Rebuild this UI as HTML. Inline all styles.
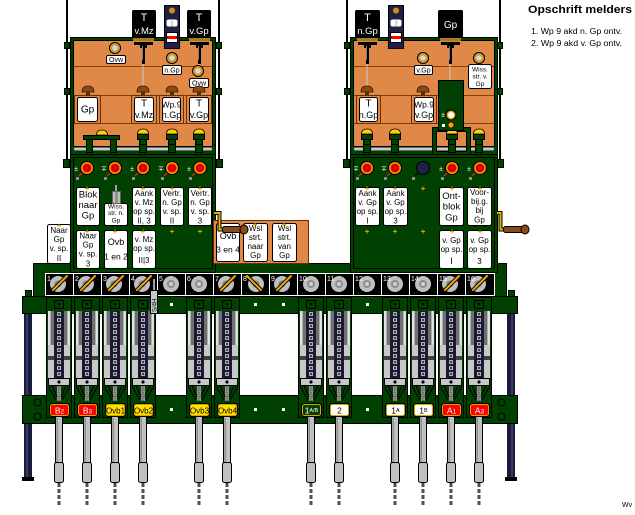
<!DOCTYPE html>
<html><head><meta charset="utf-8">
<style>
html,body{margin:0;padding:0;background:#fff;}
svg{display:block;}
text{font-family:"Liberation Sans","DejaVu Sans",sans-serif;}
</style></head><body>
<svg width="635" height="515" viewBox="0 0 635 515" xmlns="http://www.w3.org/2000/svg">
<defs>
<g id="slot">
<rect x="-12.5" y="297.5" width="25" height="120" fill="#004000" stroke="#000"/>
<rect x="-4.5" y="300.5" width="9" height="8" fill="#004000" stroke="#000"/>
<rect x="-1" y="303" width="2" height="2" fill="#000"/>
<rect x="-11" y="311" width="22" height="67" fill="#b0b0b0"/>
<rect x="-11" y="311" width="2" height="67" fill="#e0e0e0"/>
<rect x="9" y="311" width="2" height="67" fill="#e0e0e0"/>
<rect x="-8" y="311" width="3" height="67" fill="#707070"/>
<rect x="5" y="311" width="3" height="67" fill="#707070"/>
<rect x="-11" y="345" width="6" height="33" fill="#c8c8c8"/>
<rect x="5" y="345" width="6" height="33" fill="#c8c8c8"/>
<rect x="-11" y="356" width="6" height="4" fill="#404040"/>
<rect x="5" y="356" width="6" height="4" fill="#404040"/>
<rect x="-5" y="311" width="10" height="67" fill="#1a1a32"/>
<line x1="0" y1="312" x2="0" y2="377" stroke="#b0b0b0" stroke-width="4" stroke-dasharray="4 2"/>
<line x1="0" y1="312" x2="0" y2="377" stroke="#1a1a32" stroke-width="1.5" stroke-dasharray="2 4" stroke-dashoffset="-1"/>
<rect x="-10.5" y="378.5" width="21" height="7" fill="#c8c8c8" stroke="#000"/>
<path d="M0 380 L2 382 L0 384 L-2 382Z" fill="#000"/>
<rect x="-2" y="386" width="4" height="15" fill="#909090"/>
<line x1="0" y1="386" x2="0" y2="401" stroke="#404040" stroke-width="1" stroke-dasharray="1 1"/>
<path d="M-11 386 L-3 400 M11 386 L3 400 M-7 386 L-2 397 M7 386 L2 397" stroke="#000" fill="none"/>
</g>
<g id="handle">
<rect x="-3.5" y="416.5" width="7" height="47" fill="#c0c0c0" stroke="#000"/>
<rect x="-2.5" y="418" width="1.5" height="45" fill="#909090"/>
<rect x="-4.5" y="462.5" width="9" height="20" rx="2" fill="#c0c0c0" stroke="#000"/>
<line x1="0" y1="483" x2="0" y2="505" stroke="#505050" stroke-width="3" stroke-dasharray="4 2"/>
</g>
<g id="cellH">
<circle cx="13" cy="284" r="8" fill="#c0c0c0"/>
<circle cx="13" cy="284" r="3.5" fill="#808080"/>
<path d="M8 290 L22 276" stroke="#000" stroke-width="4" stroke-linecap="round"/>
<path d="M8 290 L22 276" stroke="#f0a800" stroke-width="2" stroke-linecap="round"/>
</g>
<g id="cellM">
<circle cx="15" cy="284" r="8" fill="#c0c0c0"/>
<circle cx="15" cy="284" r="3.5" fill="#808080"/>
<path d="M6 276 L20 290" stroke="#000" stroke-width="4" stroke-linecap="round"/>
<path d="M6 276 L20 290" stroke="#f0a800" stroke-width="2" stroke-linecap="round"/>
</g>
<g id="cellP">
<circle cx="14" cy="284" r="8" fill="#c0c0c0"/>
<circle cx="14" cy="284" r="4" fill="#8c8c8c"/>
<circle cx="14" cy="284" r="2" fill="#d0d0d0"/>
</g>
<g id="lampR">
<circle r="6.5" fill="#f0a000" stroke="#000"/>
<circle r="4.5" fill="#ff0000"/>
<circle r="2.5" fill="none" stroke="#900000"/>
<path d="M-5 5 L-8 8" stroke="#ff2020" stroke-width="1.2"/>
<rect x="-11" y="9" width="3" height="3" fill="#909090"/>
</g>
<g id="lampW">
<circle r="5.5" fill="#f0a000" stroke="#000"/>
<circle r="3.2" fill="#d8d8d8" stroke="#808080" stroke-width=".6"/>
</g>
<g id="bk">
<path d="M-6 92 Q-6 86 0 86 Q6 86 6 92 Z" fill="#8a4a14" stroke="#3a1a00" stroke-width=".8"/>
<rect x="-2" y="92" width="4" height="3" fill="#5a3000"/>
</g>
<g id="yk">
<path d="M-5.5 134 Q-5.5 129 0 129 Q5.5 129 5.5 134 Z" fill="#ffd000" stroke="#000" stroke-width=".8"/>
<rect x="-5.5" y="134.5" width="11" height="5" fill="#004000" stroke="#000"/>
<rect x="-3.5" y="139.5" width="7" height="13" fill="#004000" stroke="#000"/>
<line x1="-3" y1="144.5" x2="3" y2="144.5" stroke="#000"/>
</g>
<g id="mech">
<rect x="-10" y="38" width="21" height="3" fill="#a08020"/>
<path d="M-9 42 H10 V45 H4 V48 H2 V64 H-1 V48 H-3 V45 H-9 Z" fill="#000"/>
<rect x="-1" y="46" width="1" height="14" fill="#808080"/>
</g>
</defs>

<!-- vertical lines and tabs -->
<rect x="66" y="0" width="2" height="162" fill="#000"/>
<rect x="218" y="0" width="2" height="162" fill="#000"/>
<rect x="346" y="0" width="2" height="162" fill="#000"/>
<rect x="499" y="0" width="2" height="162" fill="#000"/>
<g fill="#004000" stroke="#000">
<rect x="64.5" y="42.5" width="5" height="6"/><rect x="64.5" y="88.5" width="5" height="6"/><rect x="63.5" y="159.5" width="6" height="8"/>
<rect x="216.5" y="42.5" width="5" height="6"/><rect x="216.5" y="88.5" width="5" height="6"/><rect x="216.5" y="159.5" width="6" height="8"/>
<rect x="344.5" y="42.5" width="5" height="6"/><rect x="344.5" y="88.5" width="5" height="6"/><rect x="343.5" y="159.5" width="6" height="8"/>
<rect x="497.5" y="42.5" width="5" height="6"/><rect x="497.5" y="88.5" width="5" height="6"/><rect x="497.5" y="159.5" width="6" height="8"/>
</g>

<!-- upper cabinets -->
<rect x="70.5" y="37.5" width="145" height="120" fill="#004000" stroke="#000"/>
<rect x="73.5" y="40.5" width="139" height="106" fill="#e08848" stroke="#000"/>
<path d="M74 66.5H212 M74 95.5H212 M74 123.5H212" stroke="#8a4000"/>
<rect x="350.5" y="37.5" width="147" height="120" fill="#004000" stroke="#000"/>
<rect x="353.5" y="40.5" width="141" height="106" fill="#e08848" stroke="#000"/>
<path d="M354 66.5H494 M354 95.5H494 M354 123.5H494" stroke="#8a4000"/>

<!-- rods -->
<rect x="74" y="147.5" width="138" height="3" fill="#c8c8c8" stroke="#606060" stroke-width=".6"/>
<rect x="354" y="147.5" width="140" height="3" fill="#c8c8c8" stroke="#606060" stroke-width=".6"/>

<!-- left upper cabinet cards -->
<g>
<rect x="74.5" y="95.5" width="26" height="28" fill="#e08848" stroke="#6a3000"/>
<rect x="77.5" y="97.5" width="20" height="24" rx="2" fill="#fff" stroke="#000"/>
<rect x="131.5" y="95.5" width="25" height="28" fill="#e08848" stroke="#6a3000"/>
<rect x="134.5" y="97.5" width="19" height="24" rx="2" fill="#fff" stroke="#000"/>
<rect x="159.5" y="95.5" width="24" height="28" fill="#e08848" stroke="#6a3000"/>
<rect x="162.5" y="97.5" width="18" height="24" rx="2" fill="#fff" stroke="#000"/>
<rect x="186.5" y="95.5" width="25" height="28" fill="#e08848" stroke="#6a3000"/>
<rect x="189.5" y="97.5" width="19" height="24" rx="2" fill="#fff" stroke="#000"/>
</g>
<g font-size="10" text-anchor="middle" fill="#000">
<text x="87.5" y="112.5">Gp</text>
<text x="144" y="106.5">T</text><text x="144" y="118" font-size="9">v.Mz</text>
<text x="171.5" y="107.5" font-size="8.5">Wp.9</text><text x="171.5" y="118" font-size="9">n.Gp</text>
<text x="199" y="106.5">T</text><text x="199" y="118" font-size="9">v.Gp</text>
</g>

<!-- right upper cabinet cards -->
<rect x="356.5" y="95.5" width="24" height="28" fill="#e08848" stroke="#6a3000"/>
<rect x="359.5" y="97.5" width="18" height="24" rx="2" fill="#fff" stroke="#000"/>
<rect x="411.5" y="95.5" width="25" height="28" fill="#e08848" stroke="#6a3000"/>
<rect x="414.5" y="97.5" width="19" height="24" rx="2" fill="#fff" stroke="#000"/>
<g font-size="10" text-anchor="middle" fill="#000">
<text x="368.5" y="106.5">T</text><text x="368.5" y="118" font-size="9">n.Gp</text>
<text x="424" y="107.5" font-size="8.5">Wp.9</text><text x="424" y="118" font-size="9">v.Gp</text>
</g>

<!-- mechanisms and wires -->
<use href="#mech" x="143"/><use href="#mech" x="199"/><use href="#mech" x="367"/><use href="#mech" x="450"/>
<g stroke="#c8c8c8" stroke-width="1">
<line x1="143" y1="64" x2="143" y2="88"/><line x1="199" y1="64" x2="199" y2="70"/>
<line x1="367" y1="64" x2="367" y2="88"/><line x1="450" y1="64" x2="450" y2="80"/>
</g>

<!-- lamps & labels upper -->
<use href="#lampW" x="115" y="48"/>
<use href="#lampW" x="172" y="58"/>
<use href="#lampW" x="198" y="71"/>
<use href="#lampW" x="423" y="58"/>
<use href="#lampW" x="479" y="58"/>
<g fill="#fff" stroke="#000">
<rect x="106.5" y="55.5" width="19" height="8" rx="1.5"/>
<rect x="162.5" y="65.5" width="19" height="9" rx="1.5"/>
<rect x="189.5" y="78.5" width="19" height="9" rx="1.5"/>
<rect x="414.5" y="65.5" width="18" height="9" rx="1.5"/>
<rect x="468.5" y="64.5" width="23" height="24" rx="2"/>
</g>
<g font-size="7" text-anchor="middle" fill="#000">
<text x="116" y="62">Ovw</text>
<text x="172" y="72.5">n.Gp</text>
<text x="199" y="85.5">Ovw</text>
<text x="423.5" y="72.5">v.Gp</text>
<text x="480" y="71.5" font-size="6.5">Wiss.</text>
<text x="480" y="78.5" font-size="6.5">str. v.</text>
<text x="480" y="86" font-size="6.5">Gp</text>
</g>

<!-- knobs -->
<use href="#bk" x="88"/><use href="#bk" x="143"/><use href="#bk" x="172"/><use href="#bk" x="199"/>
<use href="#bk" x="367"/><use href="#bk" x="423"/>
<rect x="83.5" y="135.5" width="36" height="4" fill="#004000" stroke="#000"/>
<rect x="86.5" y="139.5" width="6" height="13" fill="#004000" stroke="#000"/>
<rect x="110.5" y="139.5" width="6" height="13" fill="#004000" stroke="#000"/>
<path d="M96.5 135 Q96.5 130 102 130 Q107.5 130 107.5 135 Z" fill="#ffd000" stroke="#000" stroke-width=".8"/>
<use href="#yk" x="143"/><use href="#yk" x="172"/><use href="#yk" x="199"/>
<use href="#yk" x="367"/><use href="#yk" x="395"/><use href="#yk" x="479"/>
<!-- right green box and frame -->
<rect x="434.5" y="129.5" width="34" height="24" fill="none" stroke="#000" stroke-width="5"/>
<rect x="434.5" y="129.5" width="34" height="24" fill="none" stroke="#004000" stroke-width="3"/>
<use href="#yk" x="452"/>
<rect x="438.5" y="80.5" width="25" height="50" fill="#004000" stroke="#000"/>
<text x="443" y="117" font-size="7" fill="#fff" text-anchor="middle" font-family="DejaVu Sans">±</text>
<circle cx="451" cy="115" r="5" fill="#f0a000" stroke="#000"/>
<circle cx="451" cy="115" r="3" fill="#fff"/>
<rect x="442" y="124" width="3" height="3" fill="#fff"/>
<circle cx="451" cy="125" r="3" fill="#f0a000" stroke="#000" stroke-width=".6"/>

<!-- black boxes & indicators -->
<g fill="#000">
<path d="M132 11 L133 10 H155 L156 11 V38 H132Z"/>
<path d="M187 11 L188 10 H210 L211 11 V38 H187Z"/>
<path d="M355 11 L356 10 H379 L380 11 V38 H355Z"/>
<path d="M438 11 L439 10 H462 L463 11 V38 H438Z"/>
</g>
<g fill="#fff" text-anchor="middle">
<text x="144" y="21" font-size="11">T</text><text x="144" y="34" font-size="9.5">v.Mz</text>
<text x="199" y="21" font-size="11">T</text><text x="199" y="34" font-size="9.5">v.Gp</text>
<text x="367.5" y="21" font-size="11">T</text><text x="367.5" y="34" font-size="9.5">n.Gp</text>
<text x="450.5" y="28" font-size="10">Gp</text>
</g>
<g>
<rect x="164.5" y="5.5" width="15" height="43" fill="#202044" stroke="#000"/>
<circle cx="172" cy="10.5" r="3" fill="#d09000"/>
<rect x="166.5" y="19.5" width="11" height="7" rx="2" fill="#fff"/>
<text x="172" y="25.5" font-size="6.5" fill="#909090" text-anchor="middle">1</text>
<rect x="166.5" y="32.5" width="11" height="10" fill="#fff" stroke="#000"/>
<rect x="167" y="36" width="10" height="3" fill="#ff0000"/>
<rect x="388.5" y="5.5" width="15" height="43" fill="#202044" stroke="#000"/>
<circle cx="396" cy="10.5" r="3" fill="#d09000"/>
<rect x="390.5" y="19.5" width="11" height="7" rx="2" fill="#fff"/>
<text x="396" y="25.5" font-size="6.5" fill="#909090" text-anchor="middle">2</text>
<rect x="390.5" y="32.5" width="11" height="10" fill="#fff" stroke="#000"/>
<rect x="391" y="36" width="10" height="3" fill="#ff0000"/>
</g>

<!-- green base band -->
<rect x="33.5" y="263.5" width="473" height="33" fill="#004000" stroke="#000"/>

<!-- lower panels -->
<rect x="70.5" y="154.5" width="145" height="118" fill="#004000" stroke="#000"/>
<rect x="73.5" y="157.5" width="139" height="111" fill="none" stroke="#000"/>
<rect x="350.5" y="154.5" width="147" height="118" fill="#004000" stroke="#000"/>
<rect x="353.5" y="157.5" width="141" height="111" fill="none" stroke="#000"/>

<!-- lower lamps -->
<use href="#lampR" x="87" y="168"/><use href="#lampR" x="115" y="168"/><use href="#lampR" x="143" y="168"/><use href="#lampR" x="172" y="168"/><use href="#lampR" x="200" y="168"/>
<use href="#lampR" x="367" y="168"/><use href="#lampR" x="395" y="168"/>
<circle cx="423" cy="168" r="6.5" fill="#202044" stroke="#000"/>
<path d="M418 173 L415 176" stroke="#000" stroke-width="1.2"/><rect x="412" y="177" width="3" height="3" fill="#909090"/>
<use href="#lampR" x="452" y="168"/><use href="#lampR" x="480" y="168"/>
<g font-size="7" fill="#fff" text-anchor="middle" font-family="DejaVu Sans">
<text x="76" y="171">±</text><text x="104" y="171">∓</text><text x="132" y="171">±</text><text x="161" y="171">∓</text><text x="189" y="171">±</text>
<text x="356" y="171">∓</text><text x="384" y="171">∓</text><text x="441" y="171">±</text><text x="469" y="171">±</text>
</g>

<!-- orange box -->
<rect x="213.5" y="220.5" width="95" height="43" fill="#e08848" stroke="#6a3000"/>

<!-- cards lower -->
<g fill="#fff" stroke="#000">
<rect x="76.5" y="187.5" width="23" height="38" rx="2"/>
<rect x="104.5" y="203.5" width="23" height="22" rx="2"/>
<rect x="132.5" y="187.5" width="23" height="38" rx="2"/>
<rect x="160.5" y="187.5" width="23" height="38" rx="2"/>
<rect x="188.5" y="187.5" width="23" height="38" rx="2"/>
<rect x="76.5" y="230.5" width="23" height="38" rx="2"/>
<rect x="104.5" y="230.5" width="23" height="38" rx="2"/>
<rect x="132.5" y="230.5" width="23" height="38" rx="2"/>
<rect x="47.5" y="224.5" width="23" height="39" rx="2"/>
<rect x="216.5" y="223.5" width="23" height="38" rx="2"/>
<rect x="243.5" y="223.5" width="24" height="38" rx="2"/>
<rect x="272.5" y="223.5" width="24" height="38" rx="2"/>
<rect x="355.5" y="187.5" width="24" height="38" rx="2"/>
<rect x="383.5" y="187.5" width="24" height="38" rx="2"/>
<rect x="439.5" y="187.5" width="24" height="38" rx="2"/>
<rect x="467.5" y="187.5" width="24" height="38" rx="2"/>
<rect x="439.5" y="230.5" width="24" height="38" rx="2"/>
<rect x="467.5" y="230.5" width="24" height="38" rx="2"/>
</g>
<!-- switch above Wiss card -->
<rect x="115" y="185" width="2" height="7" fill="#a0a0a0"/>
<rect x="112.5" y="191.5" width="8" height="12" fill="#c0c0c0" stroke="#606060"/>
<rect x="115" y="192" width="3" height="11" fill="#909090"/>

<g text-anchor="middle" fill="#000" font-size="8">
<text x="88" y="197.5" font-size="9.5">Blok</text><text x="88" y="208" font-size="9.5">naar</text><text x="88" y="218.5" font-size="9.5">Gp</text>
<text x="116" y="208.5" font-size="6.5">Wiss.</text><text x="116" y="215" font-size="6.5">str. n.</text><text x="116" y="222.5" font-size="6.5">Gp</text>
<text x="144" y="196">Aank</text><text x="144" y="205">v. Mz</text><text x="144" y="214">op sp.</text><text x="144" y="223.5">II, 3</text>
<text x="172" y="196">Vertr.</text><text x="172" y="205">n. Gp</text><text x="172" y="214">v. sp.</text><text x="172" y="223.5" font-family="Liberation Serif">II</text>
<text x="200" y="196">Vertr.</text><text x="200" y="205">n. Gp</text><text x="200" y="214">v. sp.</text><text x="200" y="223.5">3</text>
<text x="88" y="238.5">Naar</text><text x="88" y="247.5">Gp</text><text x="88" y="256.5">v. sp.</text><text x="88" y="266.5">3</text>
<text x="116" y="245" font-size="9">Ovb</text><text x="116" y="259.5" font-size="8.5">1 en 2</text>
<text x="144" y="242">v. Mz</text><text x="144" y="251">op sp.</text><text x="144" y="263">II|3</text>
<text x="59" y="233">Naar</text><text x="59" y="242">Gp</text><text x="59" y="251">v. sp.</text><text x="59" y="261" font-family="Liberation Serif">II</text>
<text x="228" y="239" font-size="9">Ovb</text><text x="228" y="252.5" font-size="8.5">3 en 4</text>
<text x="255.5" y="231">Wsl</text><text x="255.5" y="240">strt.</text><text x="255.5" y="249">naar</text><text x="255.5" y="258">Gp</text>
<text x="284.5" y="231">Wsl</text><text x="284.5" y="240">strt.</text><text x="284.5" y="249">van</text><text x="284.5" y="258">Gp</text>
<text x="367.5" y="196">Aank</text><text x="367.5" y="205">v. Gp</text><text x="367.5" y="214">op sp.</text><text x="367.5" y="223.5" font-family="Liberation Serif">I</text>
<text x="395.5" y="196">Aank</text><text x="395.5" y="205">v. Gp</text><text x="395.5" y="214">op sp.</text><text x="395.5" y="223.5">3</text>
<text x="451.5" y="199" font-size="9.5">Ont-</text><text x="451.5" y="209.5" font-size="9.5">blok</text><text x="451.5" y="220.5" font-size="9.5">Gp</text>
<text x="479.5" y="195">Voor-</text><text x="479.5" y="204">bij.g.</text><text x="479.5" y="213">bij</text><text x="479.5" y="222.5">Gp</text>
<text x="451.5" y="243">v. Gp</text><text x="451.5" y="252">op sp.</text><text x="451.5" y="264" font-family="Liberation Serif" font-size="9">I</text>
<text x="479.5" y="243">v. Gp</text><text x="479.5" y="252">op sp.</text><text x="479.5" y="264">3</text>
</g>

<!-- yellow plus markers -->
<g stroke="#e0a000" stroke-width="1">
<path d="M85 188.5h4M87 186.5v4 M141 188.5h4M143 186.5v4 M170 188.5h4M172 186.5v4 M198 188.5h4M200 186.5v4"/>
<path d="M85 231.5h4M87 229.5v4 M113 231.5h4M115 229.5v4 M141 231.5h4M143 229.5v4 M170 231.5h4M172 229.5v4 M198 231.5h4M200 229.5v4"/>
<path d="M57 225.5h4M59 223.5v4 M253 224.5h4M255 222.5v4 M282 224.5h4M284 222.5v4"/>
<path d="M365 188.5h4M367 186.5v4 M393 188.5h4M395 186.5v4 M421 188.5h4M423 186.5v4 M450 188.5h4M452 186.5v4 M478 188.5h4M480 186.5v4"/>
<path d="M365 231.5h4M367 229.5v4 M393 231.5h4M395 229.5v4 M421 231.5h4M423 229.5v4 M450 231.5h4M452 229.5v4 M478 231.5h4M480 229.5v4"/>
</g>

<!-- cranks -->
<path d="M214 213 H219.5 V229.5 H224" fill="none" stroke="#000" stroke-width="4"/>
<path d="M214 213 H219.5 V229.5 H224" fill="none" stroke="#e0b000" stroke-width="2"/>
<rect x="222.5" y="226.5" width="20" height="6" rx="2" fill="#8a4a1a" stroke="#000"/>
<ellipse cx="244" cy="229.5" rx="4" ry="4.5" fill="#8a4a1a" stroke="#000"/>
<path d="M497 213 H500.5 V229.5 H505" fill="none" stroke="#000" stroke-width="4"/>
<path d="M497 213 H500.5 V229.5 H505" fill="none" stroke="#e0b000" stroke-width="2"/>
<rect x="503.5" y="226.5" width="20" height="6" rx="2" fill="#8a4a1a" stroke="#000"/>
<ellipse cx="525" cy="229.5" rx="4" ry="4.5" fill="#8a4a1a" stroke="#000"/>

<!-- lever strip -->
<rect x="45.5" y="273.5" width="449" height="22" fill="#000" stroke="#fff"/>
<g stroke="#fff">
<path d="M73.5 274V296 M101.5 274V296 M129.5 274V296 M157.5 274V296 M185.5 274V296 M213.5 274V296 M241.5 274V296 M269.5 274V296 M297.5 274V296 M325.5 274V296 M353.5 274V296 M381.5 274V296 M409.5 274V296 M437.5 274V296 M465.5 274V296"/>
</g>
<use href="#cellH" x="45"/><use href="#cellH" x="73"/><use href="#cellH" x="101"/><use href="#cellH" x="129"/>
<use href="#cellP" x="157"/><use href="#cellP" x="185"/><use href="#cellH" x="213"/><use href="#cellM" x="241"/>
<use href="#cellH" x="269"/><use href="#cellP" x="297"/><use href="#cellP" x="325"/><use href="#cellP" x="353"/>
<use href="#cellP" x="381"/><use href="#cellP" x="409"/><use href="#cellH" x="437"/><use href="#cellH" x="465"/>
<g fill="#fff" font-size="7">
<text x="47" y="281">1</text><text x="75" y="281">2</text><text x="103" y="281">3</text><text x="131" y="281">4</text>
<text x="159" y="281">5</text><text x="187" y="281">6</text><text x="215" y="281">7</text><text x="243" y="281">8</text>
<text x="271" y="281">9</text><text x="299" y="281">10</text><text x="327" y="281">11</text><text x="355" y="281">12</text>
<text x="383" y="281">13</text><text x="411" y="281">14</text><text x="439" y="281">15</text><text x="467" y="281">16</text>
</g>

<!-- bars and posts -->
<rect x="24" y="313" width="8" height="164" fill="#1a1a3a"/>
<rect x="26" y="313" width="2" height="164" fill="#3a3a6a"/>
<rect x="22" y="477" width="12" height="4" fill="#000"/>
<rect x="507" y="313" width="8" height="164" fill="#1a1a3a"/>
<rect x="511" y="313" width="2" height="164" fill="#3a3a6a"/>
<rect x="505" y="477" width="12" height="4" fill="#000"/>
<rect x="25.5" y="290.5" width="6" height="6" fill="#004000" stroke="#000"/>
<rect x="508.5" y="290.5" width="6" height="6" fill="#004000" stroke="#000"/>
<rect x="22.5" y="296.5" width="495" height="17" fill="#004000" stroke="#000"/>
<rect x="22.5" y="395.5" width="495" height="28" fill="#004000" stroke="#000"/>
<g fill="none" stroke="#000">
<circle cx="37.5" cy="402.5" r="3.5"/><circle cx="37.5" cy="416.5" r="3.5"/>
<circle cx="501.5" cy="402.5" r="3.5"/><circle cx="501.5" cy="416.5" r="3.5"/>
</g>
<g fill="#fff">
<rect x="170" y="303" width="3" height="3"/><rect x="254" y="303" width="3" height="3"/><rect x="282" y="303" width="3" height="3"/><rect x="366" y="303" width="3" height="3"/>
<rect x="170" y="408" width="3" height="3"/><rect x="254" y="408" width="3" height="3"/><rect x="282" y="408" width="3" height="3"/><rect x="366" y="408" width="3" height="3"/>
</g>

<!-- slots -->
<use href="#slot" x="59"/><use href="#slot" x="87"/><use href="#slot" x="115"/><use href="#slot" x="143"/>
<use href="#slot" x="199"/><use href="#slot" x="227"/><use href="#slot" x="311"/><use href="#slot" x="339"/>
<use href="#slot" x="395"/><use href="#slot" x="423"/><use href="#slot" x="451"/><use href="#slot" x="479"/>

<!-- S/4H tag -->
<line x1="154" y1="279" x2="154" y2="291" stroke="#a0a0a0" stroke-width="2"/>
<rect x="150.5" y="290.5" width="7" height="23" fill="#c8c8c8" stroke="#000"/>
<text transform="translate(156.5,312) rotate(-90)" font-size="6" fill="#000">S/4H</text>

<!-- handles -->
<use href="#handle" x="59"/><use href="#handle" x="87"/><use href="#handle" x="115"/><use href="#handle" x="143"/>
<use href="#handle" x="199"/><use href="#handle" x="227"/><use href="#handle" x="311"/><use href="#handle" x="339"/>
<use href="#handle" x="395"/><use href="#handle" x="423"/><use href="#handle" x="451"/><use href="#handle" x="479"/>

<!-- badges -->
<g stroke="#000">
<rect x="49.5" y="403.5" width="20" height="13" rx="3" fill="#ff0000"/>
<rect x="77.5" y="403.5" width="20" height="13" rx="3" fill="#ff0000"/>
<rect x="105.5" y="403.5" width="20" height="13" rx="3" fill="#ffe000"/>
<rect x="133.5" y="403.5" width="20" height="13" rx="3" fill="#ffe000"/>
<rect x="189.5" y="403.5" width="20" height="13" rx="3" fill="#ffe000"/>
<rect x="217.5" y="403.5" width="20" height="13" rx="3" fill="#ffe000"/>
<rect x="301.5" y="403.5" width="20" height="13" rx="3" fill="#004000"/>
<rect x="329.5" y="403.5" width="20" height="13" rx="3" fill="#fff"/>
<rect x="385.5" y="403.5" width="20" height="13" rx="3" fill="#fff"/>
<rect x="413.5" y="403.5" width="20" height="13" rx="3" fill="#fff"/>
<rect x="441.5" y="403.5" width="20" height="13" rx="3" fill="#ff0000"/>
<rect x="469.5" y="403.5" width="20" height="13" rx="3" fill="#ff0000"/>
</g>
<g fill="none" stroke="#e0a000">
<rect x="50.5" y="404.5" width="18" height="11" rx="2"/><rect x="78.5" y="404.5" width="18" height="11" rx="2"/>
<rect x="106.5" y="404.5" width="18" height="11" rx="2"/><rect x="134.5" y="404.5" width="18" height="11" rx="2"/>
<rect x="190.5" y="404.5" width="18" height="11" rx="2"/><rect x="218.5" y="404.5" width="18" height="11" rx="2"/>
<rect x="302.5" y="404.5" width="18" height="11" rx="2"/><rect x="330.5" y="404.5" width="18" height="11" rx="2"/>
<rect x="386.5" y="404.5" width="18" height="11" rx="2"/><rect x="414.5" y="404.5" width="18" height="11" rx="2"/>
<rect x="442.5" y="404.5" width="18" height="11" rx="2"/><rect x="470.5" y="404.5" width="18" height="11" rx="2"/>
</g>
<g font-size="8.5" text-anchor="middle">
<text x="59.5" y="413.5" fill="#fff">B<tspan font-size="6.5">2</tspan></text>
<text x="87.5" y="413.5" fill="#fff">B<tspan font-size="6.5">3</tspan></text>
<text x="115.5" y="413.5" fill="#000" font-size="8">Ovb1</text>
<text x="143.5" y="413.5" fill="#000" font-size="8">Ovb2</text>
<text x="199.5" y="413.5" fill="#000" font-size="8">Ovb3</text>
<text x="227.5" y="413.5" fill="#000" font-size="8">Ovb4</text>
<text x="311.5" y="413.5" fill="#fff">1<tspan font-size="5.5" dy="-1.5">A/B</tspan></text>
<text x="339.5" y="413.5" fill="#000">2</text>
<text x="395.5" y="413.5" fill="#000">1<tspan font-size="5.5" dy="-1.5">A</tspan></text>
<text x="423.5" y="413.5" fill="#000">1<tspan font-size="5.5" dy="-1.5">B</tspan></text>
<text x="451.5" y="413.5" fill="#fff">A<tspan font-size="6.5">1</tspan></text>
<text x="479.5" y="413.5" fill="#fff">A<tspan font-size="6.5">3</tspan></text>
</g>

<!-- legend -->
<text x="528" y="13" font-size="11" font-weight="bold" fill="#000" textLength="104" lengthAdjust="spacingAndGlyphs">Opschrift melders</text>
<text x="531" y="34" font-size="8" fill="#000" textLength="91" lengthAdjust="spacingAndGlyphs">1. Wp 9  akd n. Gp ontv.</text>
<text x="531" y="46" font-size="8" fill="#000" textLength="91" lengthAdjust="spacingAndGlyphs">2. Wp 9  akd v. Gp ontv.</text>
<text x="622" y="507" font-size="7" fill="#000">Wv</text>
</svg>
</body></html>
